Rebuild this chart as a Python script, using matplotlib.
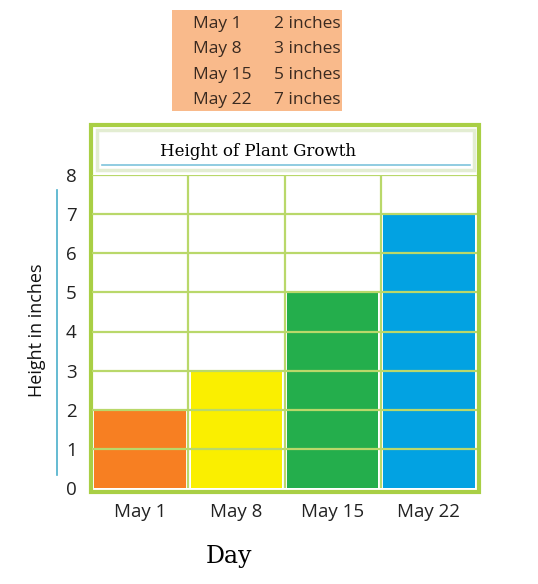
import matplotlib
matplotlib.use("Agg")
import matplotlib.pyplot as plt
from matplotlib.patches import Rectangle
from matplotlib.lines import Line2D

days = ["May 1", "May 8", "May 15", "May 22"]
heights = [2, 3, 5, 7]
bar_colors = ["#F77F22", "#FAEF00", "#24AE4C", "#02A2E2"]
table_days = ["May 1", "May 8", "May 15", "May 22"]
table_vals = ["2 inches", "3 inches", "5 inches", "7 inches"]
yticks = [0, 1, 2, 3, 4, 5, 6, 7, 8]

W, H = 538, 584
green = "#A9CF45"
grid_green = "#B9D86A"
plt.rcParams['font.family'] = ['Open Sans', 'DejaVu Sans']

fig = plt.figure(figsize=(W / 100, H / 100), dpi=100)

def fx(px):
    return px / W

def fy(py):
    return 1 - py / H

# data table at the top
fig.patches.append(Rectangle((fx(172), fy(111)), fx(342) - fx(172), fy(10) - fy(111),
                             transform=fig.transFigure, facecolor="#F9BA8B", edgecolor="none"))
row_y = [24, 49, 75, 100]
for d, v, yy in zip(table_days, table_vals, row_y):
    fig.text(fx(193), fy(yy), d, ha="left", va="center", fontsize=12.5, color="#3a2a20")
    fig.text(fx(274), fy(yy), v, ha="left", va="center", fontsize=12.5, color="#3a2a20")

# outer green frame and title box
fig.patches.append(Rectangle((fx(91), fy(492)), fx(479) - fx(91), fy(125) - fy(492),
                             transform=fig.transFigure, facecolor="white", edgecolor=green,
                             linewidth=3, zorder=0))
fig.patches.append(Rectangle((fx(97), fy(170)), fx(474) - fx(97), fy(130) - fy(170),
                             transform=fig.transFigure, facecolor="white", edgecolor="#E3EDD2",
                             linewidth=2.5, zorder=1))
fig.text(fx(258), fy(151), "Height of Plant Growth", ha="center", va="center",
         fontsize=12, family="DejaVu Serif", zorder=3)
fig.lines.append(Line2D([fx(102), fx(470)], [fy(165), fy(165)], transform=fig.transFigure,
                        color="#7EC3DC", linewidth=1.2))

ax = fig.add_axes([fx(92), fy(488), fx(477) - fx(92), fy(175) - fy(488)])
ax.set_zorder(2)
ax.patch.set_alpha(0)
x = list(range(len(days)))
ax.bar(x, heights, width=0.95, color=bar_colors, zorder=2)
for yv in yticks[1:]:
    ax.axhline(yv, color=grid_green, linewidth=1.6, zorder=3)
for xv in [0.5, 1.5, 2.5]:
    ax.axvline(xv, color=grid_green, linewidth=1.6, zorder=1)
ax.set_xlim(-0.5, 3.5)
ax.set_ylim(0, 8)
for s in ax.spines.values():
    s.set_visible(False)
ax.set_xticks(x)
ax.set_xticklabels(days, fontsize=13.5, color="#222222")
ax.set_yticks(yticks)
ax.set_yticklabels([str(t) for t in yticks], fontsize=13.5, color="#222222")
ax.tick_params(axis="both", length=0)
ax.tick_params(axis="x", pad=11)
ax.tick_params(axis="y", pad=11)

fig.text(fx(37), fy(330), "Height in inches", rotation=90, ha="center", va="center",
         fontsize=13, color="#111111")
fig.lines.append(Line2D([fx(57), fx(57)], [fy(190), fy(475)], transform=fig.transFigure,
                        color="#4AAFCB", linewidth=1.2))
fig.text(fx(229), fy(556), "Day", ha="center", va="center", fontsize=17, family="DejaVu Serif")

fig.savefig("out.png", dpi=100)
